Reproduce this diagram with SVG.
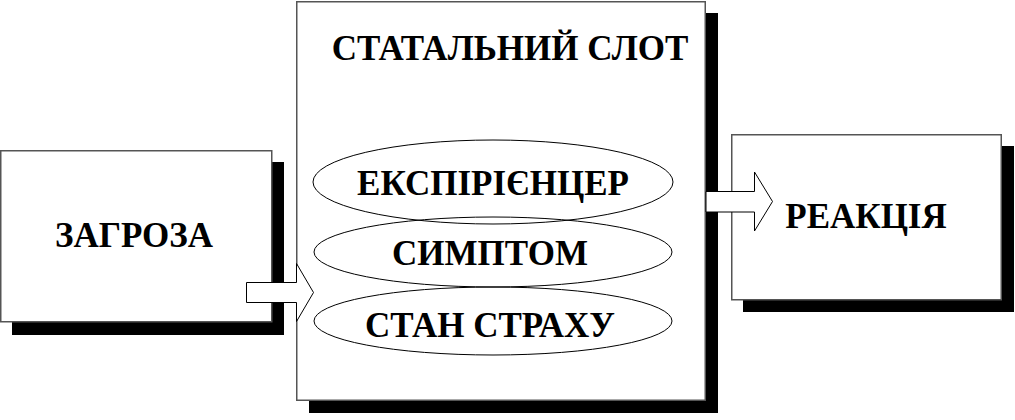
<svg xmlns="http://www.w3.org/2000/svg" width="1015" height="420" viewBox="0 0 1015 420">
<style>
.box{fill:#fff;stroke:#555;stroke-width:1.5}
.sh{fill:#000}
.el{fill:none;stroke:#000;stroke-width:1}
.arr{fill:#fff;stroke:#000;stroke-width:1}
text{font-family:"Liberation Serif","Times New Roman",serif;font-weight:bold;font-size:35px;fill:#000;text-anchor:middle}
</style>
<rect width="1015" height="420" fill="#fff"/>
<g id="threat">
<rect class="sh" x="12" y="162" width="272" height="173"/>
<rect class="box" x="0.75" y="150.75" width="271" height="171"/>
<text x="134" y="247">ЗАГРОЗА</text>
</g>
<g id="slot">
<rect class="sh" x="309" y="13" width="409" height="400"/>
<rect class="box" x="296.75" y="1.75" width="408.5" height="398.5"/>
<text x="510" y="60">СТАТАЛЬНИЙ СЛОТ</text>
</g>
<g id="reaction">
<rect class="sh" x="743" y="146" width="271" height="166"/>
<rect class="box" x="731.75" y="134.75" width="269.5" height="165"/>
<text x="866" y="228">РЕАКЦІЯ</text>
</g>
<g id="experiencer">
<ellipse class="el" cx="493" cy="182" rx="180" ry="42"/>
<text x="493" y="195">ЕКСПІРІЄНЦЕР</text>
</g>
<g id="symptom">
<ellipse class="el" cx="493" cy="252" rx="179" ry="35"/>
<text x="490" y="265">СИМПТОМ</text>
</g>
<g id="fear">
<ellipse class="el" cx="493" cy="321" rx="179" ry="34"/>
<text x="490" y="337">СТАН СТРАХУ</text>
</g>
<g id="connectors">
<path class="arr" d="M246.5,282.5 H296.5 V263.5 L313.5,292.5 L296.5,321.5 V302.5 H246.5 Z"/>
<path class="arr" d="M706,191.5 H754.5 V172 L772.5,201.5 L754.5,231 V212 H706 Z"/>
</g>
</svg>
